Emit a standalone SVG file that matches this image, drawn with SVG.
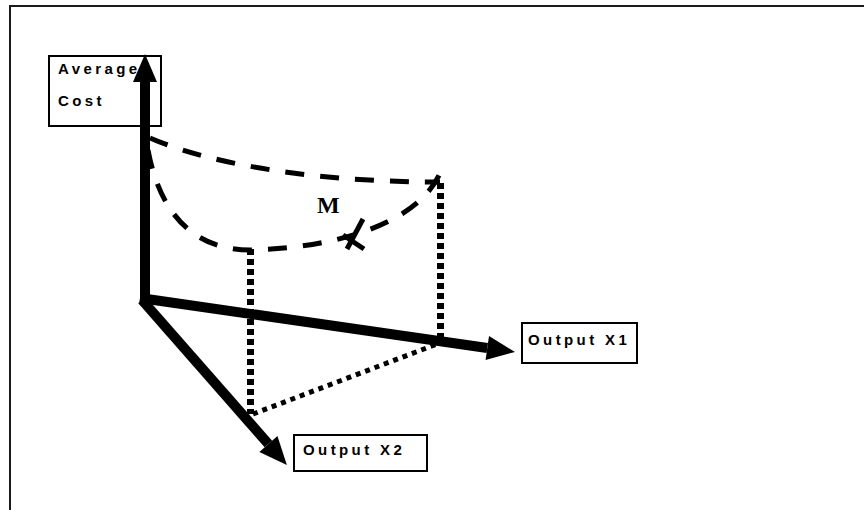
<svg xmlns="http://www.w3.org/2000/svg" width="864" height="510" viewBox="0 0 864 510">
  <defs>
    <style>
      .frame { fill: none; stroke: #1a1a1a; stroke-width: 2; }
      .box { fill: #ffffff; stroke: #000000; stroke-width: 2; }
      .label { font-family: "Liberation Sans", Arial, sans-serif; font-weight: bold; font-size: 15px; letter-spacing: 3.4px; fill: #000000; }
      .axis { fill: none; stroke: #000000; stroke-width: 10; stroke-linecap: butt; }
      .curve { fill: none; stroke: #000000; stroke-width: 5; stroke-dasharray: 19 16; }
      .drop { fill: none; stroke: #000000; stroke-width: 7; stroke-dasharray: 6 4; }
      .floor { fill: none; stroke: #000000; stroke-width: 5; stroke-dasharray: 5 5; }
      .mark { fill: none; stroke: #000000; stroke-width: 5; }
      .serif { font-family: "Liberation Serif", "Times New Roman", serif; font-weight: bold; font-size: 24px; fill: #000000; }
    </style>
    <marker id="head" markerUnits="userSpaceOnUse" markerWidth="30" markerHeight="26" refX="0" refY="12" orient="auto" overflow="visible">
      <path d="M0,0 L28,12 L0,24 Z" fill="#000000"/>
    </marker>
  </defs>

  <rect width="864" height="510" fill="#ffffff"/>
  <path class="frame" d="M10,510 V6 H864"/>

  <g id="node-avg-cost">
    <rect class="box" x="49" y="56" width="112" height="70"/>
    <text class="label" x="58" y="74">Average</text>
    <text class="label" x="58" y="106">Cost</text>
  </g>

  <!-- dashed cost curves and the marked point -->
  <g id="curves">
    <path class="curve" d="M150,138 C200,160 300,182 440,182"/>
    <path class="curve" d="M148,150 C160,215 195,250 250,250 C340,248 420,222 441,171"/>
    <path class="mark" d="M363,219 L347,249 M343,235 L364,249"/>
  </g>

  <!-- projection lines -->
  <g id="projections">
    <line class="drop" x1="250.5" y1="249" x2="250.5" y2="414"/>
    <line class="drop" x1="440.5" y1="183" x2="440.5" y2="341"/>
    <line class="floor" x1="253" y1="414" x2="437" y2="344"/>
  </g>

  <!-- axes -->
  <g id="connectors">
    <line class="axis" x1="145" y1="298" x2="145" y2="82" marker-end="url(#head)"/>
    <line class="axis" x1="140" y1="298" x2="487.3" y2="348" marker-end="url(#head)"/>
    <line class="axis" x1="142" y1="300" x2="268.4" y2="444" marker-end="url(#head)"/>
  </g>

  <g id="node-m">
    <text class="serif" x="317" y="213">M</text>
  </g>

  <g id="node-output-x1">
    <rect class="box" x="522" y="323" width="115" height="40"/>
    <text class="label" x="528" y="345">Output X1</text>
  </g>

  <g id="node-output-x2">
    <rect class="box" x="294" y="435" width="133" height="36"/>
    <text class="label" x="303" y="455">Output X2</text>
  </g>
</svg>
